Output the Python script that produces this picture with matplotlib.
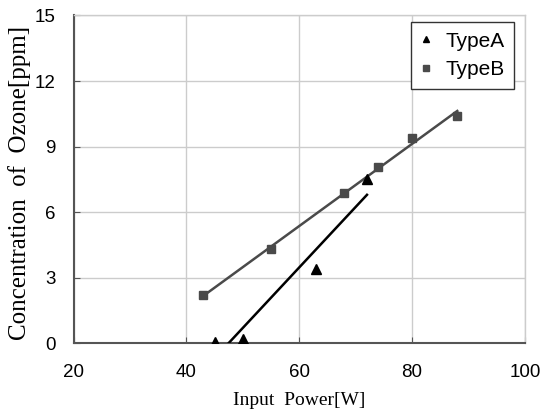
import numpy as np
import matplotlib
matplotlib.use("Agg")
import matplotlib.pyplot as plt

# Data
power_a = [45, 50, 63, 72]
ozone_a = [0.05, 0.2, 3.4, 7.5]
power_b = [43, 55, 68, 74, 80, 88]
ozone_b = [2.2, 4.3, 6.9, 8.05, 9.4, 10.4]

x_ticks = [20, 40, 60, 80, 100]
y_ticks = [0, 3, 6, 9, 12, 15]

fig = plt.figure(figsize=(5.41, 4.13), dpi=100)
ax = fig.add_axes([0.1359, 0.1683, 0.9704 - 0.1359, 0.9625 - 0.1683])

# linear trendlines over each series' x range
fa = np.polyfit(power_a, ozone_a, 1)
fb = np.polyfit(power_b, ozone_b, 1)
xa = np.array([min(power_a), max(power_a)])
xb = np.array([min(power_b), max(power_b)])
ax.plot(xa, np.polyval(fa, xa), color="black", lw=1.8, zorder=3)
ax.plot(xb, np.polyval(fb, xb), color="#4a4a4a", lw=1.8, zorder=3)

ax.plot(power_a, ozone_a, ls="none", marker="^", ms=6.5, color="black",
        label="TypeA", zorder=4)
ax.plot(power_b, ozone_b, ls="none", marker="s", ms=6, color="#4a4a4a",
        label="TypeB", zorder=4)

ax.set_xlim(20, 100)
ax.set_ylim(0, 15)
ax.set_xticks(x_ticks)
ax.set_yticks(y_ticks)
ax.grid(True, color="#cccccc", lw=1)
ax.set_axisbelow(True)

for s in ["top", "right"]:
    ax.spines[s].set_color("#cccccc")
    ax.spines[s].set_linewidth(1)
for s in ["left", "bottom"]:
    ax.spines[s].set_color("#555555")
    ax.spines[s].set_linewidth(1.5)

ax.tick_params(axis="both", direction="in", length=4, color="#555555",
               labelsize=13.5, labelfontfamily="Liberation Sans")
ax.tick_params(axis="x", pad=15)
ax.tick_params(axis="y", pad=13)

ax.set_xlabel("Input  Power[W]", fontsize=14, family="Liberation Serif",
              labelpad=8)
ax.set_ylabel("Concentration  of  Ozone[ppm]", fontsize=18,
              family="Liberation Serif")
ax.yaxis.set_label_coords(-0.094, 0.49)

leg = ax.legend(loc="upper right", bbox_to_anchor=(0.975, 0.979),
                prop={"family": "Liberation Sans", "size": 15},
                handlelength=0.6, handletextpad=0.6, borderpad=0.45,
                labelspacing=0.45, fancybox=False, framealpha=1,
                edgecolor="#333333", markerscale=0.7, borderaxespad=0)
leg.get_frame().set_linewidth(1)

fig.savefig("out.png", dpi=100)
